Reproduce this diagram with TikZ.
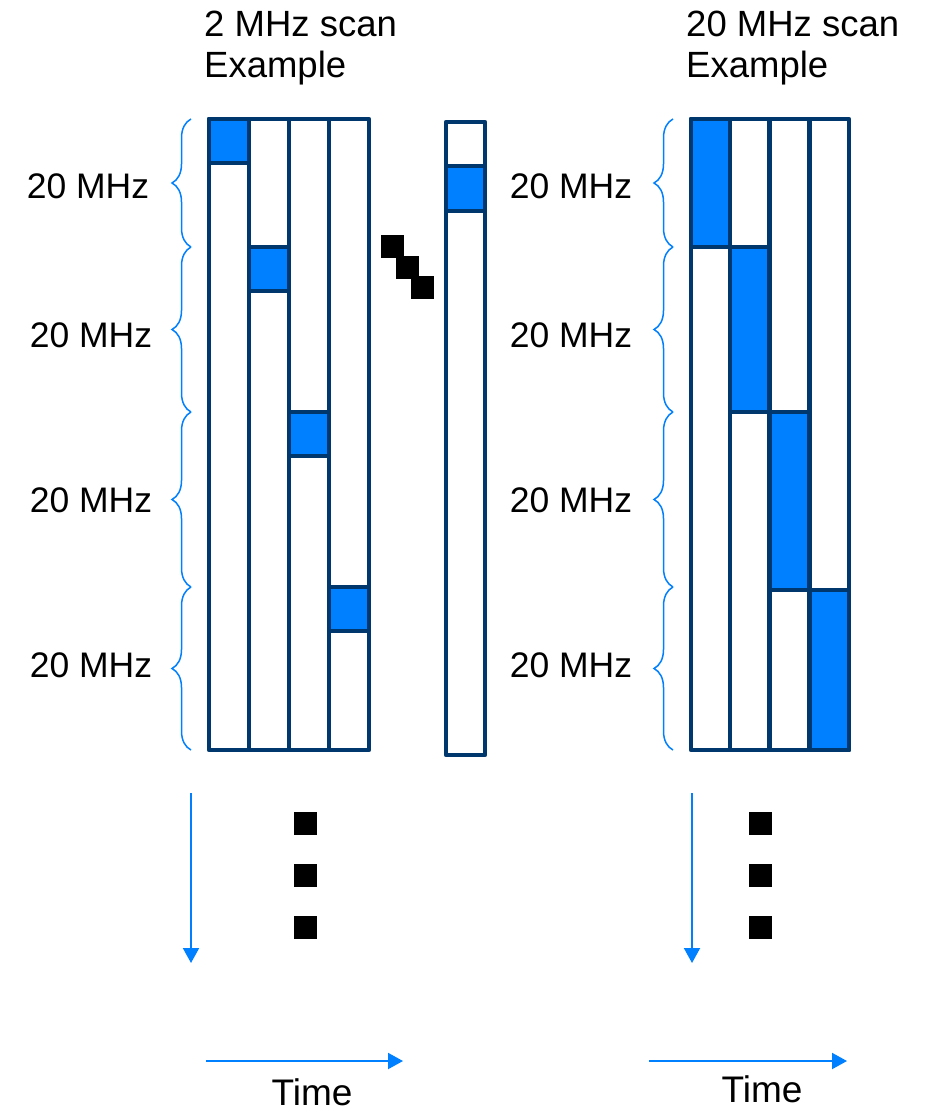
\documentclass[tikz,border=0pt]{standalone}
\usepackage{fontspec}
\setmainfont{Liberation Sans}
\usepackage{xcolor}
\definecolor{NavyLine}{HTML}{00376C}
\definecolor{ScanBlue}{HTML}{0080FF}
\usetikzlibrary{arrows.meta,decorations.pathreplacing}
\tikzset{
  scancol/.style={
    draw=NavyLine,
    fill=white,
    line width=4.5pt,
    line join=round
  },
  scancell/.style={
    draw=NavyLine,
    fill=ScanBlue,
    line width=4.5pt,
    line join=round
  },
  bandbrace/.style={
    draw=ScanBlue,
    line width=1.5pt,
    decorate,
    decoration={brace,amplitude=19pt}
  },
  bandlabel/.style={
    font=\fontsize{35.5}{42}\selectfont,
    inner sep=0pt
  },
  timelabel/.style={
    font=\fontsize{37}{42}\selectfont,
    anchor=base,
    inner sep=0pt
  },
  titletext/.style={
    font=\fontsize{36.5}{40}\selectfont,
    anchor=base west,
    inner sep=0pt
  },
  axisarrow/.style={
    draw=ScanBlue,
    line width=2pt,
    -{Triangle[length=15pt,width=16pt]}
  },
  dotmark/.style={
    fill=black,
    draw=none
  }
}

\begin{document}
\begin{tikzpicture}[x=1pt,y=-1pt]
  \useasboundingbox (0,0) rectangle (925,1113);
  % titles
  \node[titletext] (titleA) at (204,37) {2 MHz scan};
  \node[titletext] (titleAb) at (204,78) {Example};
  \node[titletext] (titleB) at (686,37) {20 MHz scan};
  \node[titletext] (titleBb) at (686,78) {Example};
  % 2 MHz scan: columns and one narrow cell per band
  \foreach \x [count=\i] in {209,249,289,329}{
    \draw[scancol] (\x,119) rectangle ++(40,631);
  }
  \foreach \x/\y in {209/119,249/247,289/412,329/587}{
    \draw[scancell] (\x,\y) rectangle ++(40,44);
  }
  % skipped steps
  \fill[dotmark] (381,235) rectangle ++(23,23);
  \fill[dotmark] (396,256) rectangle ++(23,23);
  \fill[dotmark] (411,276) rectangle ++(23,23);
  \draw[scancol] (446,122) rectangle (485,755);
  \draw[scancell] (446,166) rectangle (485,211);
  % 20 MHz scan: one full band per column
  \foreach \x [count=\i] in {691,730,770,810}{
    \draw[scancol] (\x,119) rectangle ++(39,631);
  }
  \foreach \x/\ya/\yb in {691/119/247,730/247/412,770/412/590,810/590/750}{
    \draw[scancell] (\x,\ya) rectangle (\x+39,\yb);
  }
  % bands
  \foreach \ya/\yb/\yl/\xl [count=\i] in {119/247/186/88,247/412/335/91,412/587/500/91,587/750/665/91}{
    \coordinate (lbandtop\i) at (191,\ya);
    \coordinate (lbandbot\i) at (191,\yb);
    \coordinate (rbandtop\i) at (673,\ya);
    \coordinate (rbandbot\i) at (673,\yb);
    \draw[bandbrace] (lbandbot\i) -- (lbandtop\i);
    \draw[bandbrace] (rbandbot\i) -- (rbandtop\i);
    \node[bandlabel] (llabel\i) at (\xl,\yl) {20 MHz};
    \node[bandlabel] (rlabel\i) at (571,\yl) {20 MHz};
  }
  % more scans below
  \foreach \y in {812,864,916}{
    \fill[dotmark] (294,\y) rectangle ++(23,23);
    \fill[dotmark] (749,\y) rectangle ++(23,23);
  }
  % axes
  \coordinate (lfreqA) at (191,793);
  \coordinate (lfreqB) at (191,963);
  \coordinate (rfreqA) at (692,793);
  \coordinate (rfreqB) at (692,963);
  \coordinate (ltimeA) at (206,1061);
  \coordinate (ltimeB) at (403,1061);
  \coordinate (rtimeA) at (649,1061);
  \coordinate (rtimeB) at (847,1061);
  \draw[axisarrow] (lfreqA) -- (lfreqB);
  \draw[axisarrow] (rfreqA) -- (rfreqB);
  \draw[axisarrow] (ltimeA) -- (ltimeB);
  \draw[axisarrow] (rtimeA) -- (rtimeB);
  \node[timelabel] (ltime) at (312,1105) {Time};
  \node[timelabel] (rtime) at (762,1102) {Time};
\end{tikzpicture}
\end{document}
